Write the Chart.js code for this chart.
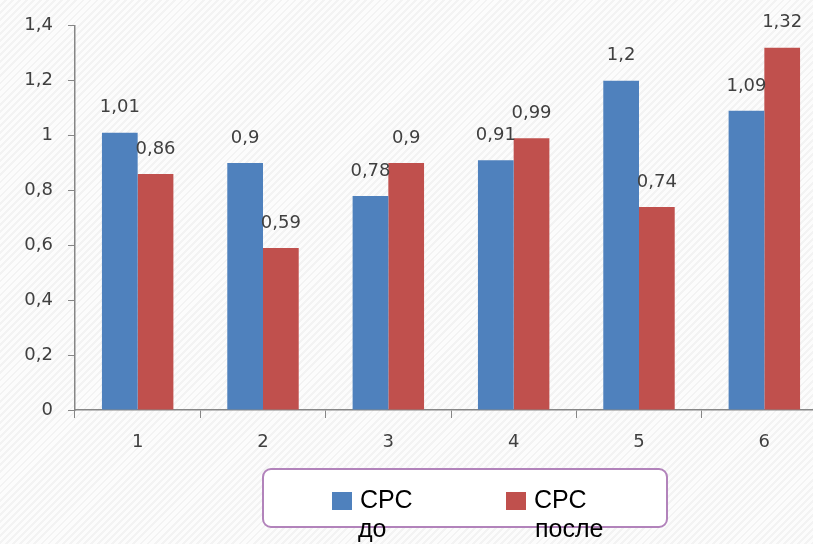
<!DOCTYPE html>
<html>
<head>
<meta charset="utf-8">
<script src="https://cdn.jsdelivr.net/npm/chart.js@4"></script>
<style>
  html, body { margin: 0; padding: 0; }
  body {
    width: 813px; height: 544px; overflow: hidden; position: relative;
    background: #fafafa repeating-linear-gradient(135deg, #fcfcfc 0px, #fcfcfc 3px, #f3f3f3 3px, #f3f3f3 5px);
  }
  #wrap { position: absolute; left: 0; top: 0; width: 840px; height: 544px; }
  #legend {
    position: absolute; left: 262px; top: 468px; width: 402px; height: 56px;
    border: 2px solid #b283bb; border-radius: 9px; background: #fff;
  }
  .item { position: absolute; top: 15px; font: 25px "Liberation Sans", Arial, sans-serif; color: #000; line-height: 29px; }
  .sw { position: absolute; top: 7px; width: 20px; height: 18px; }
  .txt { position: absolute; top: 0; left: 28px; width: 80px; }
</style>
</head>
<body>
<div id="wrap"><canvas id="chart" width="840" height="544"></canvas></div>
<div id="legend">
  <div class="item" style="left:68px"><div class="sw" style="background:#4F81BD"></div><div class="txt">СРС<br><span style="margin-left:-2px">до</span></div></div>
  <div class="item" style="left:242px"><div class="sw" style="background:#C0504D"></div><div class="txt">СРС<br><span style="margin-left:1px">после</span></div></div>
</div>
<script>
// данные
const categorias = ['1', '2', '3', '4', '5', '6'];
const srcDo = [1.01, 0.9, 0.78, 0.91, 1.2, 1.09];
const srcPosle = [0.86, 0.59, 0.9, 0.99, 0.74, 1.32];
const yTicks = [0, 0.2, 0.4, 0.6, 0.8, 1, 1.2, 1.4];

const fmt = v => String(v).replace('.', ',');

// подписи над столбцами
const valueLabels = {
  id: 'valueLabels',
  afterDatasetsDraw(chart) {
    const ctx = chart.ctx;
    ctx.save();
    ctx.font = '18px "DejaVu Sans", sans-serif';
    ctx.fillStyle = '#404040';
    ctx.textAlign = 'center';
    ctx.textBaseline = 'middle';
    chart.data.datasets.forEach((ds, i) => {
      chart.getDatasetMeta(i).data.forEach((bar, j) => {
        ctx.fillText(fmt(ds.data[j]), bar.x, bar.y - 25);
      });
    });
    ctx.restore();
  }
};

const axisColor = '#868686';
const tickFont = { family: '"DejaVu Sans", sans-serif', size: 18 };

new Chart(document.getElementById('chart'), {
  type: 'bar',
  data: {
    labels: categorias,
    datasets: [
      { label: 'СРС до', data: srcDo, backgroundColor: '#4F81BD' },
      { label: 'СРС после', data: srcPosle, backgroundColor: '#C0504D' }
    ]
  },
  options: {
    responsive: false,
    animation: false,
    events: [],
    categoryPercentage: 0.57,
    barPercentage: 1.0,
    layout: { padding: { top: 24, right: 13, left: 0, bottom: 0 } },
    plugins: { legend: { display: false }, tooltip: { enabled: false } },
    scales: {
      x: {
        grid: { drawOnChartArea: false, color: axisColor, tickLength: 8, offset: true },
        border: { color: axisColor, width: 1.5 },
        ticks: { font: tickFont, color: '#404040', padding: 14 },
        afterFit: s => { s.height = 134; }
      },
      y: {
        min: 0, max: 1.4,
        afterBuildTicks: s => { s.ticks = yTicks.map(v => ({ value: v })); },
        grid: { drawOnChartArea: false, color: axisColor, tickLength: 7 },
        border: { color: axisColor, width: 1.5 },
        ticks: { font: tickFont, color: '#404040', padding: 15, callback: v => fmt(v) },
        afterFit: s => { s.width = 75; }
      }
    }
  },
  plugins: [valueLabels]
});
</script>
</body>
</html>
